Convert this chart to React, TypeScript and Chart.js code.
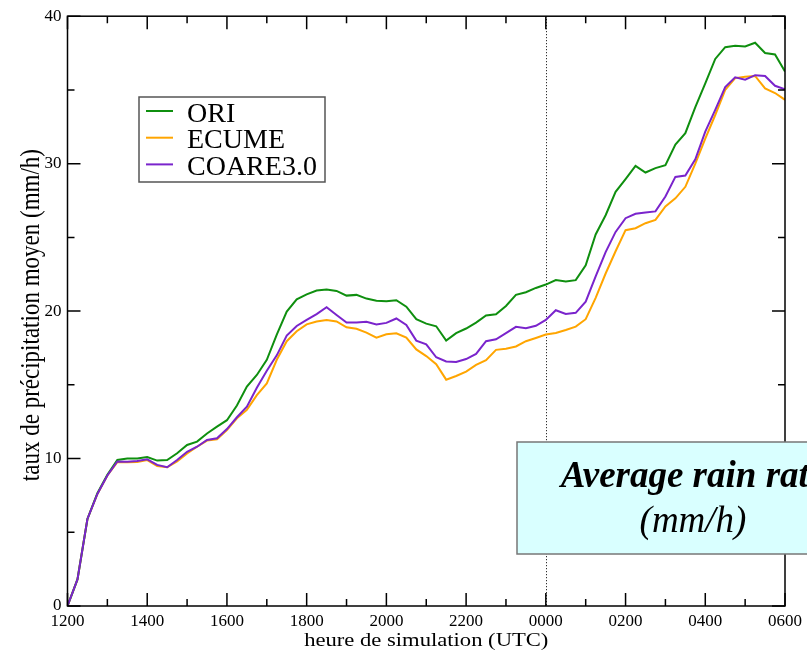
import React, { useEffect, useRef } from "react";
import { Chart, registerables } from "chart.js";

Chart.register(...registerables);

// hours since 1200 UTC
const hours = [
  0, 0.25, 0.5, 0.75, 1, 1.25, 1.5, 1.75, 2, 2.25, 2.5, 2.75, 3, 3.25, 3.5, 3.75,
  4, 4.25, 4.5, 4.75, 5, 5.25, 5.5, 5.75, 6, 6.25, 6.5, 6.75, 7, 7.25, 7.5, 7.75,
  8, 8.25, 8.5, 8.75, 9, 9.25, 9.5, 9.75, 10, 10.25, 10.5, 10.75, 11, 11.25, 11.5, 11.75,
  12, 12.25, 12.5, 12.75, 13, 13.25, 13.5, 13.75, 14, 14.25, 14.5, 14.75, 15, 15.25, 15.5, 15.75,
  16, 16.25, 16.5, 16.75, 17, 17.25, 17.5, 17.75, 18,
];

const tickLabels = ["1200", "1400", "1600", "1800", "2000", "2200", "0000", "0200", "0400", "0600"];

const ori = [
  0, 1.8, 5.9, 7.65, 8.9, 9.9, 10.0, 10.0, 10.1, 9.86, 9.9, 10.36, 10.92, 11.15, 11.7, 12.16,
  12.6, 13.6, 14.88, 15.67, 16.7, 18.4, 19.97, 20.8, 21.14, 21.4, 21.46, 21.37, 21.05, 21.1, 20.85, 20.7,
  20.67, 20.74, 20.3, 19.45, 19.15, 18.97, 18.0, 18.5, 18.82, 19.22, 19.7, 19.78, 20.35, 21.1, 21.28, 21.57,
  21.8, 22.1, 22.0, 22.1, 23.1, 25.2, 26.5, 28.09, 28.95, 29.85, 29.4, 29.7, 29.9, 31.3, 32.07, 33.83,
  35.45, 37.1, 37.9, 38.0, 37.95, 38.2, 37.5, 37.4, 36.25,
];

const ecume = [
  0, 1.8, 5.9, 7.6, 8.85, 9.75, 9.75, 9.77, 9.9, 9.5, 9.41, 9.8, 10.35, 10.8, 11.22, 11.3,
  11.94, 12.73, 13.3, 14.3, 15.1, 16.7, 17.96, 18.63, 19.1, 19.3, 19.4, 19.3, 18.9, 18.8, 18.54, 18.2,
  18.43, 18.5, 18.2, 17.4, 16.95, 16.4, 15.35, 15.6, 15.9, 16.35, 16.67, 17.37, 17.45, 17.6, 17.96, 18.18,
  18.41, 18.52, 18.72, 18.95, 19.45, 20.9, 22.55, 24.06, 25.49, 25.62, 25.96, 26.19, 27.1, 27.65, 28.43, 30.0,
  31.7, 33.3, 35.0, 35.8, 35.9, 35.95, 35.1, 34.79, 34.33,
];

const coare = [
  0, 1.8, 5.9, 7.6, 8.85, 9.8, 9.79, 9.84, 9.95, 9.57, 9.41, 9.9, 10.46, 10.8, 11.26, 11.37,
  12.0, 12.8, 13.52, 14.8, 15.95, 17.0, 18.34, 18.99, 19.4, 19.8, 20.26, 19.74, 19.22, 19.22, 19.27, 19.1,
  19.2, 19.5, 19.06, 18.0, 17.75, 16.87, 16.58, 16.55, 16.75, 17.1, 17.96, 18.09, 18.5, 18.93, 18.84, 19.0,
  19.4, 20.06, 19.81, 19.88, 20.64, 22.35, 24.0, 25.37, 26.3, 26.6, 26.69, 26.76, 27.77, 29.1, 29.19, 30.3,
  32.17, 33.65, 35.2, 35.85, 35.7, 36.0, 35.95, 35.28, 35.05,
];

const seriesNames = ["ORI", "ECUME", "COARE3.0"];
const seriesColors = ["#0f8f0f", "#ffa500", "#7a24cc"];
const midnightHour = 12;
const xTitle = "heure de simulation (UTC)";
const yTitle = "taux de précipitation moyen (mm/h)";
const noteLines = ["Average rain rate", "(mm/h)"];

const SERIF = "'Liberation Serif', 'Times New Roman', serif";

const decorPlugin = {
  id: "decor",
  beforeDatasetsDraw(chart: any) {
    const { ctx, chartArea, scales } = chart;
    const px = scales.x.getPixelForValue(midnightHour);
    ctx.save();
    ctx.strokeStyle = "#000";
    ctx.lineWidth = 1;
    ctx.setLineDash([1, 2]);
    ctx.beginPath();
    ctx.moveTo(Math.round(px) + 0.5, chartArea.top);
    ctx.lineTo(Math.round(px) + 0.5, chartArea.bottom);
    ctx.stroke();
    ctx.restore();
  },
  afterDraw(chart: any) {
    const { ctx, chartArea, scales } = chart;
    const { left, right, top, bottom } = chartArea;
    const xs = scales.x;
    const ys = scales.y;
    ctx.save();
    // frame
    ctx.strokeStyle = "#000";
    ctx.lineWidth = 1.5;
    ctx.strokeRect(left, top, right - left, bottom - top);

    // ticks (inward)
    const drawX = (v: number, len: number) => {
      const p = xs.getPixelForValue(v);
      ctx.beginPath();
      ctx.moveTo(p, bottom);
      ctx.lineTo(p, bottom - len);
      ctx.moveTo(p, top);
      ctx.lineTo(p, top + len);
      ctx.stroke();
    };
    const drawY = (v: number, len: number) => {
      const p = ys.getPixelForValue(v);
      ctx.beginPath();
      ctx.moveTo(left, p);
      ctx.lineTo(left + len, p);
      ctx.moveTo(right, p);
      ctx.lineTo(right - len, p);
      ctx.stroke();
    };
    const xt = xs.ticks.map((t: any) => t.value);
    xt.forEach((v: number, i: number) => {
      drawX(v, 13);
      if (i < xt.length - 1) drawX((v + xt[i + 1]) / 2, 7);
    });
    const yt = ys.ticks.map((t: any) => t.value);
    yt.forEach((v: number, i: number) => {
      drawY(v, 13);
      if (i < yt.length - 1) drawY((v + yt[i + 1]) / 2, 7);
    });

    // axis titles
    ctx.fillStyle = "#000";
    ctx.textAlign = "center";
    ctx.textBaseline = "alphabetic";
    ctx.save();
    ctx.translate((left + right) / 2, 646);
    ctx.scale(1.19, 1);
    ctx.font = `19px ${SERIF}`;
    ctx.fillText(xTitle, 0, 0);
    ctx.restore();

    ctx.save();
    ctx.translate(39, (top + bottom) / 2 + 4);
    ctx.rotate(-Math.PI / 2);
    ctx.scale(1, 1.2);
    ctx.font = `23px ${SERIF}`;
    ctx.fillText(yTitle, 0, 0);
    ctx.restore();

    // legend
    ctx.fillStyle = "#fff";
    ctx.fillRect(139, 97, 186, 85);
    ctx.strokeStyle = "#555";
    ctx.lineWidth = 1.5;
    ctx.strokeRect(139, 97, 186, 85);
    ctx.font = `28px ${SERIF}`;
    ctx.textAlign = "left";
    chart.data.datasets.forEach((ds: any, i: number) => {
      const base = 121.5 + i * 26.7;
      ctx.strokeStyle = ds.borderColor;
      ctx.lineWidth = 2;
      ctx.beginPath();
      ctx.moveTo(146, base - 10.5);
      ctx.lineTo(173, base - 10.5);
      ctx.stroke();
      ctx.fillStyle = "#000";
      ctx.fillText(ds.label, 187, base);
    });

    // annotation box
    ctx.fillStyle = "#d9ffff";
    ctx.fillRect(517, 442, 360, 112);
    ctx.strokeStyle = "#777";
    ctx.lineWidth = 1.5;
    ctx.strokeRect(517, 442, 360, 112);
    ctx.fillStyle = "#000";
    ctx.textAlign = "center";
    ctx.font = `italic bold 37px ${SERIF}`;
    ctx.fillText(noteLines[0], 693, 487);
    ctx.font = `italic 37px ${SERIF}`;
    ctx.fillText(noteLines[1], 693, 532);
    ctx.restore();
  },
};

export default function App() {
  const ref = useRef<HTMLCanvasElement>(null);
  useEffect(() => {
    document.body.style.margin = "0";
    const canvas = ref.current!;
    const data = [ori, ecume, coare];
    const chart = new Chart(canvas, {
      type: "line",
      data: {
        datasets: seriesNames.map((name, i) => ({
          label: name,
          data: hours.map((h, j) => ({ x: h, y: data[i][j] })),
          borderColor: seriesColors[i],
          backgroundColor: seriesColors[i],
          borderWidth: 2,
          pointRadius: 0,
          tension: 0,
          order: i === 2 ? 0 : i + 1,
        })),
      },
      options: {
        responsive: false,
        animation: false,
        events: [],
        layout: { padding: { top: 16, right: 19.5, left: 0, bottom: 0 } },
        plugins: { legend: { display: false }, tooltip: { enabled: false } },
        scales: {
          x: {
            type: "linear",
            min: 0,
            max: 18,
            grid: { display: false, drawTicks: false },
            border: { display: false },
            ticks: {
              stepSize: 2,
              padding: 5,
              color: "#000",
              maxRotation: 0,
              font: { family: SERIF, size: 17 },
              callback: (v: any) => tickLabels[Math.round(Number(v) / 2)] ?? "",
            },
            afterFit: (s: any) => {
              s.height = 46;
            },
          },
          y: {
            min: 0,
            max: 40,
            grid: { display: false, drawTicks: false },
            border: { display: false },
            ticks: {
              stepSize: 10,
              padding: 6,
              color: "#000",
              font: { family: SERIF, size: 17 },
            },
            afterFit: (s: any) => {
              s.width = 67.5;
            },
          },
        },
      },
      plugins: [decorPlugin],
    } as any);
    return () => chart.destroy();
  }, []);
  return <canvas ref={ref} width={807} height={652} style={{ display: "block" }} />;
}
